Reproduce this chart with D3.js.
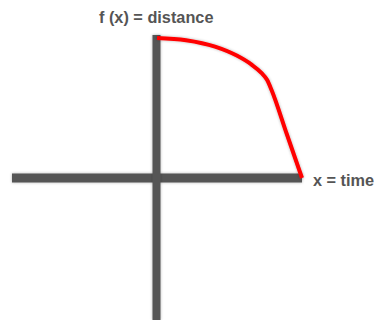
<!DOCTYPE html>
<html><head><meta charset="utf-8">
<script src="https://cdn.jsdelivr.net/npm/d3@7"></script>
<style>body{margin:0;background:#fff;}svg{display:block;}</style>
</head><body>
<script>
// Data (normalized coordinates: axes span -1..1)
const curveX = [0, 0.2, 0.4, 0.55, 0.65, 0.72, 0.76, 0.79, 0.895, 1.0];
const curveY = [0.986, 0.97, 0.925, 0.862, 0.80, 0.74, 0.69, 0.62, 0.31, 0];
const yLabel = "f (x) = distance";
const xLabel = "x = time";

const W = 375, H = 320;
const svg = d3.select("body").append("svg").attr("width", W).attr("height", H);
const x = d3.scaleLinear().domain([-1, 1]).range([12, 302]);
const y = d3.scaleLinear().domain([-1, 1]).range([320, 36]);

const defs = svg.append("defs");
const f = defs.append("filter").attr("id","sh").attr("filterUnits","userSpaceOnUse")
  .attr("x",0).attr("y",0).attr("width",W).attr("height",H);
f.append("feGaussianBlur").attr("in","SourceAlpha").attr("stdDeviation",1.5).attr("result","b");
f.append("feComponentTransfer").attr("in","b").attr("result","c")
  .append("feFuncA").attr("type","linear").attr("slope",0.3);
const m = f.append("feMerge"); m.append("feMergeNode").attr("in","c"); m.append("feMergeNode").attr("in","SourceGraphic");

// axes
svg.append("rect").attr("x", x(-1)).attr("width", x(1) - x(-1)).attr("y", y(0) - 4.5).attr("height", 9)
  .attr("fill","#555").attr("filter","url(#sh)");
svg.append("rect").attr("x", x(0) - 4.5).attr("width", 8).attr("y", y(1) - 1).attr("height", y(-1) - y(1) + 1)
  .attr("fill","#555").attr("filter","url(#sh)");

const pts = curveX.map((d,i)=>[d, curveY[i]]);
const line = d3.line().x(d=>x(d[0])).y(d=>y(d[1])).curve(d3.curveMonotoneX);
svg.append("path").datum(pts).attr("d", line).attr("fill","none")
  .attr("stroke","#ff0000").attr("stroke-width",4).attr("filter","url(#sh)");

svg.append("text").attr("x", 99).attr("y", 23).text(yLabel)
  .attr("font-family","Liberation Sans, Arial, sans-serif").attr("font-weight","bold")
  .attr("font-size",16.3).attr("fill","#555");
svg.append("text").attr("x", 313).attr("y", 186).text(xLabel)
  .attr("font-family","Liberation Sans, Arial, sans-serif").attr("font-weight","bold")
  .attr("font-size",16.3).attr("fill","#555");
</script>
</body></html>
